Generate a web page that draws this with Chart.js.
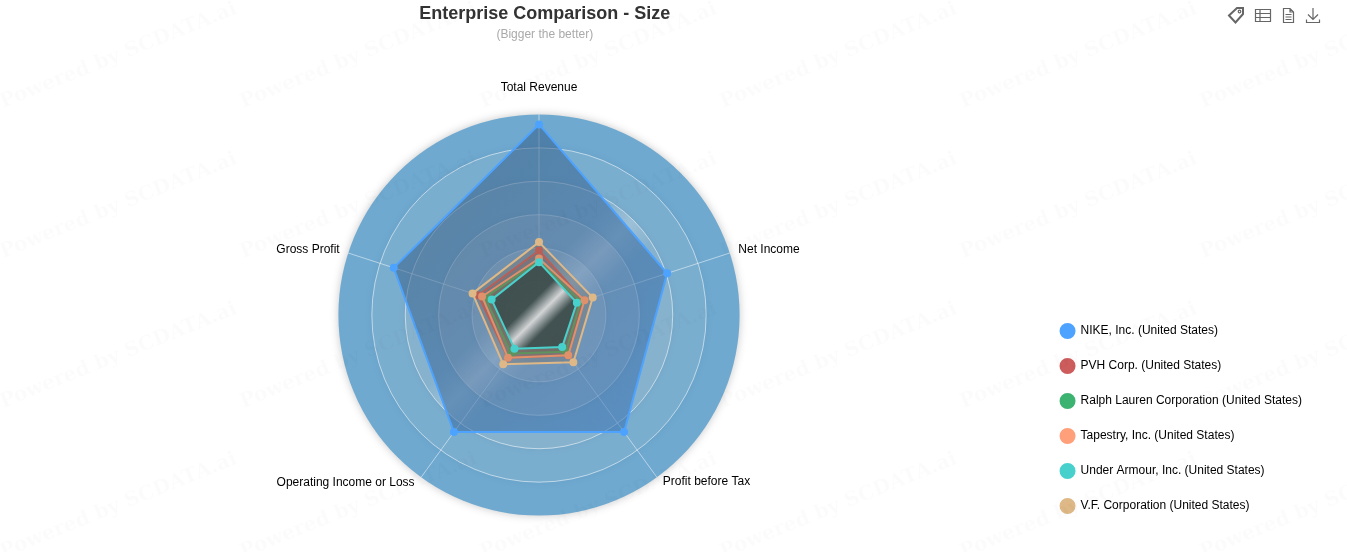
<!DOCTYPE html>
<html>
<head>
<meta charset="utf-8">
<title>Enterprise Comparison - Size</title>
<script src="https://cdn.jsdelivr.net/npm/chart.js@4/dist/chart.umd.min.js"></script>
<style>
  html, body { margin: 0; padding: 0; background: #fff; overflow: hidden; }
  #wrap { position: relative; width: 1347px; height: 552px; }
  #toolbox { position: absolute; left: 0; top: 0; }
</style>
</head>
<body>
<div id="wrap">
  <canvas id="chart" width="1347" height="552"></canvas>
  <svg id="toolbox" width="1347" height="30" fill="none" stroke="#666" stroke-width="1.2">
    <!-- tag -->
    <path d="M1229 15.5 L1237 8 L1243 8 L1243 14 L1235.500 22.500 Z" stroke-width="2"/>
    <circle cx="1239.500" cy="11.500" r="1.300"/>
    <!-- table -->
    <path d="M1255.500 9.500 H1270.500 V21.500 H1255.500 Z M1255.500 13.500 H1270.500 M1255.500 17.500 H1270.500 M1260 9.500 V21.500"/>
    <!-- doc -->
    <path d="M1283.500 8.500 H1290 L1293.500 12 V22.500 H1283.500 Z M1290 8.500 V12 H1293.500 M1285.500 14.500 H1291.500 M1285.500 17 H1291.500 M1285.500 19.500 H1291.500"/>
    <!-- download -->
    <path d="M1313 8 V19 M1308 14.500 L1313 19.500 L1318 14.500 M1306.500 19.500 V22.500 H1319.500 V19.500"/>
  </svg>
</div>
<script>
const categories = ['Total Revenue', 'Net Income', 'Profit before Tax', 'Operating Income or Loss', 'Gross Profit'];
const companyNames = [
  'NIKE, Inc. (United States)',
  'PVH Corp. (United States)',
  'Ralph Lauren Corporation (United States)',
  'Tapestry, Inc. (United States)',
  'Under Armour, Inc. (United States)',
  'V.F. Corporation (United States)',
];
const nikeValues = [5.70, 4.03, 4.33, 4.33, 4.57];
const pvhValues = [1.93, 1.40, 1.49, 1.58, 1.91];
const ralphValues = [1.61, 1.31, 1.36, 1.42, 1.70];
const tapestryValues = [1.69, 1.43, 1.49, 1.58, 1.79];
const underArmourValues = [1.58, 1.19, 1.18, 1.25, 1.49];
const vfValues = [2.18, 1.69, 1.75, 1.82, 2.09];
const seriesValues = [nikeValues, pvhValues, ralphValues, tapestryValues, underArmourValues, vfValues];

const lineColors = ['#4DA3FF', '#CD5C5C', '#3CB371', '#FFA07A', '#48D1CC', '#DEB887'];
const drawOrder = [6, 5, 4, 3, 1, 2];
const ringColors = ['#BFCCD4', '#B1C5D1', '#9ABACE', '#86B2CE', '#7AAECF', '#6FA9D0'];
const streakColors = ['#E4EAEE', '#DCE5EA', '#C5D5DF', '#9DC0D6', '#7AAECF', '#6FA9D0'];
const labelPadding = [20, 9, 10, 11, 9];
const labelShiftY = [0, 7, -11, -11, 7];
const LEGEND_BOTTOM = 535;
const TITLE_SHIFT = 5;

function diagonalGradient(chart, half, stops) {
  const r = chart.scales.r;
  if (!r) return 'rgba(0,0,0,0.2)';
  const g = chart.ctx.createLinearGradient(r.xCenter - half, r.yCenter - half, r.xCenter + half, r.yCenter + half);
  stops.forEach(s => g.addColorStop(s[0], s[1]));
  return g;
}

// nike is a slate to blue wash, under armour carries the dark metal look of the middle
const fillColors = [
  c => diagonalGradient(c.chart, 150, [[0, 'rgba(50,85,120,0.52)'], [1, 'rgba(50,115,190,0.52)']]),
  'rgba(130,50,50,0.24)',
  'rgba(30,95,65,0.24)',
  'rgba(170,95,60,0.20)',
  c => diagonalGradient(c.chart, 36, [
    [0, 'rgba(45,70,72,0.72)'], [0.36, 'rgba(45,70,72,0.72)'], [0.5, 'rgba(240,245,250,0.75)'],
    [0.64, 'rgba(45,70,72,0.72)'], [1, 'rgba(45,70,72,0.72)'],
  ]),
  'rgba(130,105,70,0.26)',
];

// rings + metallic streak behind the grid
const ringBackground = {
  id: 'ringBackground',
  beforeDraw(chart) {
    const r = chart.scales.r;
    const ctx = chart.ctx;
    ctx.save();
    for (let i = 6; i >= 1; i--) {
      const rad = r.getDistanceFromCenterForValue(i);
      const g = ctx.createLinearGradient(r.xCenter - rad * 0.71, r.yCenter - rad * 0.71, r.xCenter + rad * 0.71, r.yCenter + rad * 0.71);
      const band = Math.min(0.5, 14 / rad);
      g.addColorStop(0, ringColors[i - 1]);
      g.addColorStop(0.5 - band, ringColors[i - 1]);
      g.addColorStop(0.5, streakColors[i - 1]);
      g.addColorStop(0.5 + band, ringColors[i - 1]);
      g.addColorStop(1, ringColors[i - 1]);
      ctx.shadowColor = i === 6 ? 'rgba(0,0,0,0.22)' : 'rgba(0,0,0,0.06)';
      ctx.shadowBlur = 8;
      ctx.fillStyle = g;
      ctx.beginPath();
      ctx.arc(r.xCenter, r.yCenter, rad, 0, Math.PI * 2);
      ctx.fill();
    }
    ctx.restore();
  },
};

const watermark = {
  id: 'watermark',
  afterDraw(chart) {
    const ctx = chart.ctx;
    ctx.save();
    ctx.font = 'bold 20px "DejaVu Serif"';
    ctx.fillStyle = 'rgba(0,0,0,0.016)';
    for (let row = 0; row < 4; row++) {
      for (let col = 0; col < 6; col++) {
        ctx.save();
        ctx.translate(col * 240 + 3, row * 150 + 108);
        ctx.rotate(-22 * Math.PI / 180);
        ctx.fillText('Powered by SCDATA.ai', 0, 0);
        ctx.restore();
      }
    }
    ctx.restore();
  },
};

// nudges the library has no option for
const nudgeBoxes = {
  id: 'nudgeBoxes',
  afterLayout(chart) {
    chart.legend.bottom = LEGEND_BOTTOM;
    chart.boxes.forEach(b => {
      if (b.options && b.options.text) { b.left += TITLE_SHIFT; b.right += TITLE_SHIFT; }
    });
    chart.scales.r._pointLabelItems.forEach((item, i) => { item.y += labelShiftY[i]; });
  },
};

new Chart(document.getElementById('chart'), {
  type: 'radar',
  data: {
    labels: categories,
    datasets: companyNames.map((name, i) => ({
      label: name,
      data: seriesValues[i],
      borderColor: lineColors[i],
      backgroundColor: fillColors[i],
      pointBackgroundColor: lineColors[i],
      pointBorderColor: lineColors[i],
      borderWidth: 2,
      pointRadius: 3,
      fill: true,
      order: drawOrder[i],
    })),
  },
  options: {
    responsive: false,
    animation: false,
    layout: { padding: { left: 42, right: 35, top: 0, bottom: 18 } },
    plugins: {
      tooltip: { enabled: false },
      title: {
        display: true, text: 'Enterprise Comparison - Size', fullSize: false,
        color: '#333', font: { family: '"Liberation Sans"', size: 18, weight: 'bold' },
        padding: { top: 3, bottom: 3 },
      },
      subtitle: {
        display: true, text: '(Bigger the better)', fullSize: false,
        color: '#aaa', font: { family: '"Liberation Sans"', size: 12, weight: 'normal' },
        padding: { top: 0, bottom: 21 },
      },
      legend: {
        position: 'right',
        align: 'end',
        labels: {
          usePointStyle: true, pointStyle: 'circle', pointStyleWidth: 14,
          boxWidth: 14, boxHeight: 10, padding: 23,
          color: '#000', font: { family: '"Liberation Sans"', size: 12 },
          sort: (a, b) => a.datasetIndex - b.datasetIndex,
        },
      },
    },
    scales: {
      r: {
        min: 0, max: 6,
        ticks: { display: false, stepSize: 1 },
        grid: { circular: true, color: c => c.tick && c.tick.value === 6 ? 'rgba(0,0,0,0)' : 'rgba(255,255,255,0.55)', lineWidth: 1 },
        angleLines: { color: 'rgba(255,255,255,0.5)', lineWidth: 1 },
        pointLabels: {
          color: '#000', font: { family: '"Liberation Sans"', size: 12 },
          padding: c => labelPadding[c.index],
        },
      },
    },
    elements: { line: { tension: 0 } },
  },
  plugins: [ringBackground, nudgeBoxes, watermark],
});
</script>
</body>
</html>
